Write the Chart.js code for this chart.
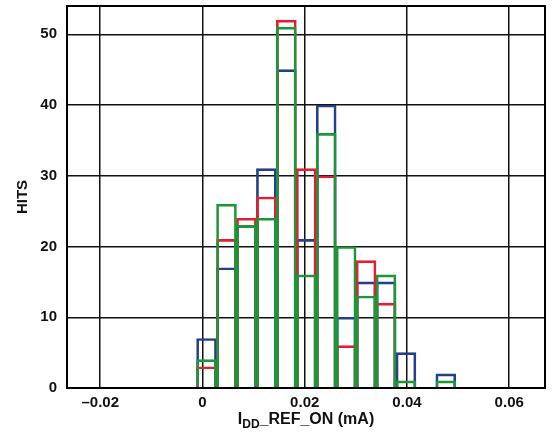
<!DOCTYPE html>
<html>
<head>
<meta charset="utf-8">
<script src="https://cdn.jsdelivr.net/npm/chart.js@4/dist/chart.umd.min.js"></script>
<style>
  html, body { margin: 0; padding: 0; background: #fff; }
  #wrap { width: 556px; height: 445px; }
</style>
</head>
<body>
<div id="wrap"><canvas id="histChart" width="556" height="445"></canvas></div>
<script>
// bin centres (mA) and hit counts
var binCenters = [0.0008, 0.0047, 0.0086, 0.0125, 0.0164, 0.0203, 0.0242, 0.0281, 0.0320, 0.0359, 0.0398, 0.0437, 0.0476];
var blueHits  = [7, 17, 23, 31, 45, 21, 40, 10, 15, 15, 5, 0, 2];
var redHits   = [3, 21, 24, 27, 52, 31, 30, 6, 18, 12, 0, 0, 0];
var greenHits = [4, 26, 23, 24, 51, 16, 36, 20, 13, 16, 1, 0, 1];

var xTicks = [-0.02, 0, 0.02, 0.04, 0.06];
var xTickLabels = ["\u20130.02", "0", "0.02", "0.04", "0.06"];
var yTicks = [0, 10, 20, 30, 40, 50];

var FONT = "'Liberation Sans', Arial, sans-serif";

function toPoints(hits) {
  return binCenters.map(function (c, i) { return { x: c, y: hits[i] }; });
}

function series(label, hits, color, order) {
  return {
    label: label,
    data: toPoints(hits),
    backgroundColor: "rgba(0,0,0,0)",
    borderColor: color,
    borderWidth: 2,
    borderSkipped: "start",
    grouped: false,
    categoryPercentage: 1,
    barPercentage: 1,
    order: order,
  };
}

// frame round the plot + x title with subscript
var framePlugin = {
  id: "frame",
  afterDatasetsDraw: function (chart) {
    var a = chart.chartArea, ctx = chart.ctx;
    ctx.save();
    ctx.strokeStyle = "#000";
    ctx.lineWidth = 2;
    ctx.strokeRect(a.left, a.top, a.right - a.left, a.bottom - a.top);
    ctx.restore();
  },
  afterDraw: function (chart) {
    var a = chart.chartArea, ctx = chart.ctx;
    var big = "bold 16px " + FONT, small = "bold 12px " + FONT;
    ctx.save();
    ctx.fillStyle = "#111";
    ctx.textBaseline = "alphabetic";
    ctx.font = big;
    var w1 = ctx.measureText("I").width, w3 = ctx.measureText("_REF_ON (mA)").width;
    ctx.font = small;
    var w2 = ctx.measureText("DD").width;
    var x = (a.left + a.right) / 2 - (w1 + w2 + w3) / 2;
    var y = 424;
    ctx.font = big;
    ctx.fillText("I", x, y);
    ctx.font = small;
    ctx.fillText("DD", x + w1, y + 4);
    ctx.font = big;
    ctx.fillText("_REF_ON (mA)", x + w1 + w2, y);
    ctx.restore();
  },
};

function noPad(scale) {
  scale.paddingTop = 0;
  scale.paddingBottom = 0;
  scale.paddingLeft = 0;
  scale.paddingRight = 0;
}

var ctx = document.getElementById("histChart").getContext("2d");
var histChart = new Chart(ctx, {
  type: "bar",
  data: {
    datasets: [
      series("A", blueHits, "#223f8c", 3),
      series("B", redHits, "#e41e30", 2),
      series("C", greenHits, "#1c9639", 1),
    ],
  },
  options: {
    responsive: false,
    animation: false,
    layout: { padding: { left: 0, top: 6, right: 11, bottom: 0 } },
    plugins: { legend: { display: false }, tooltip: { enabled: false } },
    scales: {
      x: {
        type: "linear",
        offset: false,
        min: -0.0265,
        max: 0.067,
        afterBuildTicks: function (scale) {
          scale.ticks = xTicks.map(function (v) { return { value: v }; });
        },
        afterFit: function (scale) { scale.height = 57; noPad(scale); },
        grid: { color: "#111", lineWidth: 1.5, drawTicks: false, offset: false },
        border: { display: false },
        ticks: {
          padding: 6,
          color: "#111",
          font: { family: FONT, size: 15, weight: "bold" },
          callback: function (v) {
            var i = xTicks.indexOf(v);
            return i >= 0 ? xTickLabels[i] : "";
          },
        },
      },
      y: {
        min: 0,
        max: 54,
        afterBuildTicks: function (scale) {
          scale.ticks = yTicks.map(function (v) { return { value: v }; });
        },
        afterFit: function (scale) { scale.width = 67; noPad(scale); },
        grid: { color: "#111", lineWidth: 1.5, drawTicks: false },
        border: { display: false },
        ticks: {
          padding: 10,
          color: "#111",
          font: { family: FONT, size: 15, weight: "bold" },
        },
        title: {
          display: true,
          text: "HITS",
          color: "#111",
          font: { family: FONT, size: 15, weight: "bold" },
          padding: { top: 14, bottom: 0 },
        },
      },
    },
  },
  plugins: [framePlugin],
});
</script>
</body>
</html>
